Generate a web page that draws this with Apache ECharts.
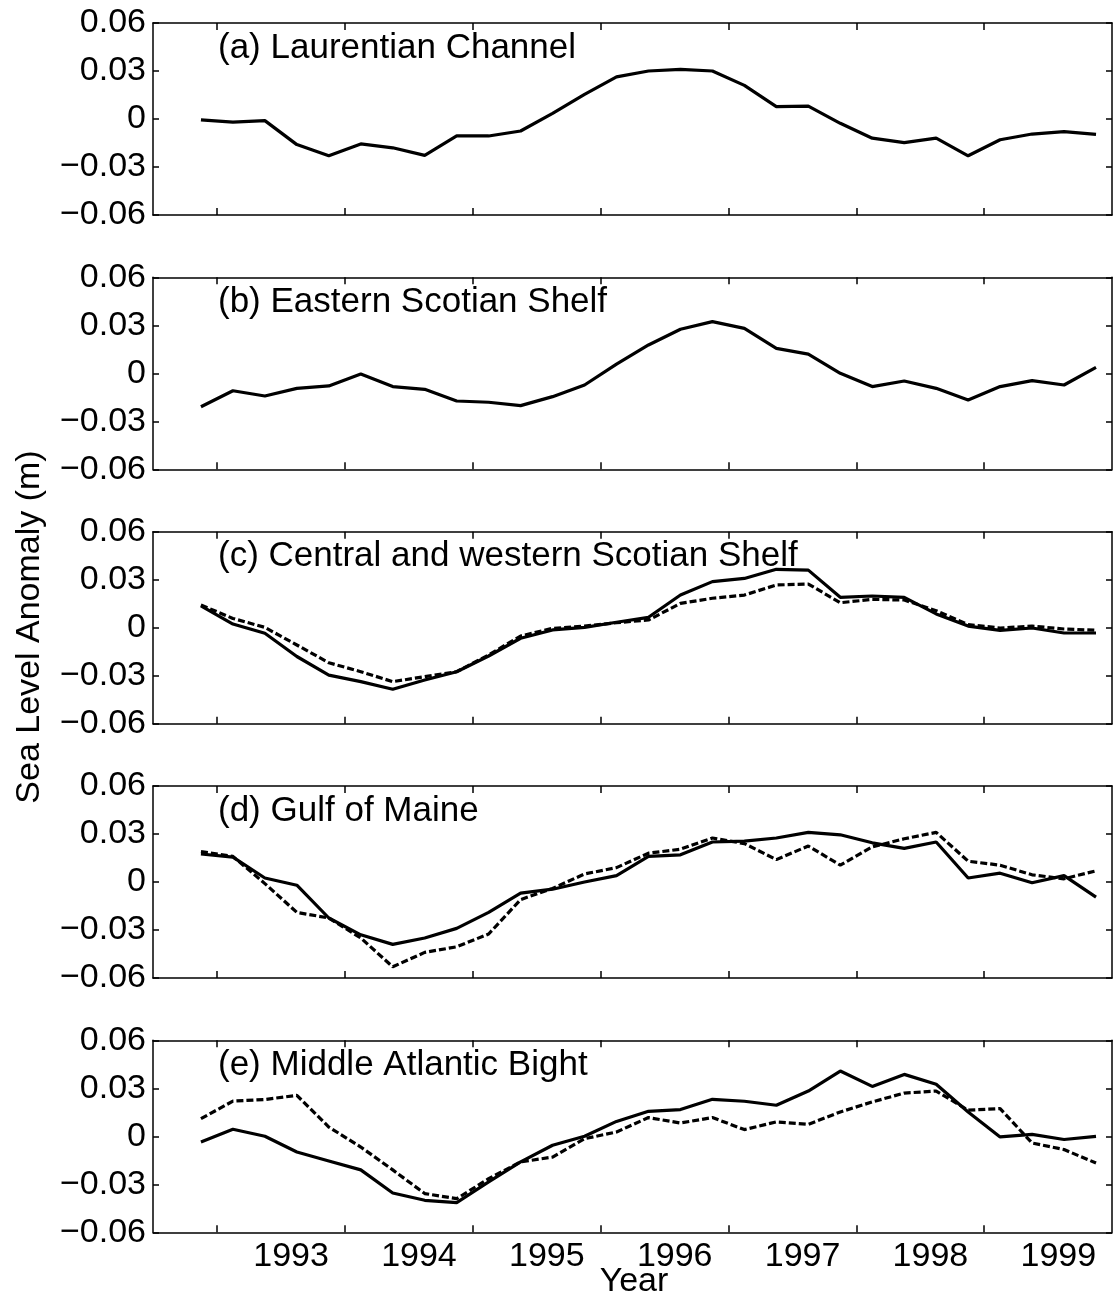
<!DOCTYPE html>
<html>
<head>
<meta charset="utf-8">
<script src="https://cdn.jsdelivr.net/npm/echarts@6/dist/echarts.min.js"></script>
<style>
html,body{margin:0;padding:0;background:#fff;}
#chart{width:1113px;height:1300px;}
</style>
</head>
<body>
<div id="chart"></div>
<script>
// Time (decimal year) of each quarterly sample
const time = [1992.875,1993.125,1993.375,1993.625,1993.875,1994.125,1994.375,1994.625,1994.875,1995.125,
  1995.375,1995.625,1995.875,1996.125,1996.375,1996.625,1996.875,1997.125,1997.375,1997.625,
  1997.875,1998.125,1998.375,1998.625,1998.875,1999.125,1999.375,1999.625,1999.875];

const yearTicks = [1993,1994,1995,1996,1997,1998,1999];
const yearLabels = ['1993','1994','1995','1996','1997','1998','1999'];
const yTicks = [-0.06,-0.03,0,0.03,0.06];

const panelTitles = ['(a) Laurentian Channel','(b) Eastern Scotian Shelf','(c) Central and western Scotian Shelf','(d) Gulf of Maine','(e) Middle Atlantic Bight'];

// Sea level anomaly (m), solid lines
const aSolid = [-0.0005,-0.002,-0.001,-0.016,-0.023,-0.0156,-0.018,-0.0227,-0.0106,-0.0106,-0.0075,0.0035,0.0154,0.0263,0.030,0.031,0.030,0.021,0.0077,0.008,-0.0027,-0.012,-0.0148,-0.012,-0.023,-0.013,-0.0094,-0.0079,-0.0096];
const bSolid = [-0.0209,-0.0109,-0.0142,-0.0094,-0.0079,-0.0004,-0.0083,-0.010,-0.0173,-0.0181,-0.0202,-0.0146,-0.0073,0.0057,0.0177,0.0275,0.0323,0.0281,0.0156,0.012,0.000,-0.0083,-0.0048,-0.0094,-0.0167,-0.0083,-0.0046,-0.0073,0.0037];
const cSolid = [0.0136,0.0023,-0.0035,-0.018,-0.0296,-0.0337,-0.0385,-0.0327,-0.0275,-0.0177,-0.0066,-0.0014,0.0002,0.0034,0.0065,0.0204,0.0288,0.0308,0.0365,0.036,0.019,0.0198,0.019,0.0086,0.001,-0.0017,-0.0002,-0.0033,-0.0033];
const cDashed = [0.0142,0.0058,0.0002,-0.0108,-0.0219,-0.0275,-0.0337,-0.0306,-0.0275,-0.017,-0.0052,-0.0004,0.001,0.0031,0.0048,0.0152,0.0184,0.0204,0.0267,0.0273,0.0156,0.0177,0.0173,0.0106,0.0019,-0.0002,0.001,-0.0008,-0.0016];
const dSolid = [0.0175,0.0156,0.0025,-0.002,-0.0225,-0.033,-0.039,-0.035,-0.029,-0.019,-0.007,-0.0045,0.000,0.004,0.016,0.017,0.025,0.0255,0.0275,0.031,0.0295,0.0245,0.021,0.025,0.0025,0.0055,-0.0005,0.004,-0.0095];
const dDashed = [0.019,0.016,-0.001,-0.019,-0.0225,-0.035,-0.053,-0.044,-0.0405,-0.0325,-0.011,-0.004,0.005,0.009,0.018,0.0205,0.0275,0.024,0.014,0.0225,0.0105,0.022,0.027,0.031,0.013,0.0105,0.0045,0.002,0.007];
const eSolid = [-0.0035,0.0044,0.000,-0.0098,-0.0154,-0.021,-0.0354,-0.040,-0.0415,-0.0285,-0.016,-0.0056,0.000,0.0093,0.0156,0.0167,0.0231,0.0219,0.0194,0.0283,0.0408,0.0312,0.0387,0.0325,0.0152,-0.0004,0.0012,-0.002,0.000];
const eDashed = [0.011,0.022,0.023,0.0256,0.0058,-0.0067,-0.021,-0.0358,-0.039,-0.0265,-0.016,-0.013,-0.0015,0.0027,0.0117,0.0083,0.0117,0.0042,0.009,0.0075,0.0152,0.0215,0.027,0.0283,0.0163,0.0173,-0.0042,-0.0083,-0.0167];

const panels = [
  {solid: aSolid, dashed: null},
  {solid: bSolid, dashed: null},
  {solid: cSolid, dashed: cDashed},
  {solid: dSolid, dashed: dDashed},
  {solid: eSolid, dashed: eDashed}
];

const FONT = 'Liberation Sans, Arial, Helvetica, sans-serif';
const tops = [23, 277.3, 531.7, 786, 1040.3];
const LEFT = 153, WIDTH = 959, HEIGHT = 192;

const grids = [], xAxes = [], yAxes = [], series = [], graphics = [];
const pair = (arr) => arr.map((v, i) => [time[i], v]);

panels.forEach((p, i) => {
  grids.push({left: LEFT, top: tops[i], width: WIDTH, height: HEIGHT, show: false});
  const isLast = i === panels.length - 1;
  const axLine = {show: true, onZero: false, lineStyle: {color: '#000', width: 1.5}};
  // bottom x axis
  xAxes.push({
    type: 'value', gridIndex: i, position: 'bottom', min: 1992.5, max: 2000,
    axisLine: axLine,
    axisTick: {show: true, inside: true, length: 7, lineStyle: {color: '#000', width: 1.5}, customValues: yearTicks},
    axisLabel: isLast ? {
      show: true, color: '#000', fontSize: 34, fontFamily: FONT, margin: 7,
      customValues: yearTicks.map(y => y + 0.58),
      formatter: (v) => yearLabels[yearTicks.indexOf(Math.floor(v))] || ''
    } : {show: false},
    splitLine: {show: false}
  });
  // top x axis (box + ticks)
  xAxes.push({
    type: 'value', gridIndex: i, position: 'top', min: 1992.5, max: 2000,
    axisLine: axLine,
    axisTick: {show: true, inside: true, length: 7, lineStyle: {color: '#000', width: 1.5}, customValues: yearTicks},
    axisLabel: {show: false}, splitLine: {show: false}
  });
  // left y axis
  yAxes.push({
    type: 'value', gridIndex: i, position: 'left', min: -0.06, max: 0.06, interval: 0.03,
    axisLine: axLine,
    axisTick: {show: true, inside: true, length: 6, lineStyle: {color: '#000', width: 1.5}, customValues: yTicks},
    axisLabel: {
      show: true, color: '#000', fontSize: 34, fontFamily: FONT, margin: 7,
      customValues: yTicks,
      formatter: (v) => Math.abs(v) < 1e-9 ? '0' : (v < 0 ? '\u2212' : '') + Math.abs(v).toFixed(2)
    },
    splitLine: {show: false}
  });
  // right y axis
  yAxes.push({
    type: 'value', gridIndex: i, position: 'right', min: -0.06, max: 0.06, interval: 0.03,
    axisLine: axLine,
    axisTick: {show: true, inside: true, length: 6, lineStyle: {color: '#000', width: 1.5}, customValues: yTicks},
    axisLabel: {show: false}, splitLine: {show: false}
  });
  series.push({
    type: 'line', xAxisIndex: 2 * i, yAxisIndex: 2 * i, data: pair(p.solid),
    symbol: 'none', lineStyle: {color: '#000', width: 3.2}, z: 3
  });
  if (p.dashed) {
    series.push({
      type: 'line', xAxisIndex: 2 * i, yAxisIndex: 2 * i, data: pair(p.dashed),
      symbol: 'none', lineStyle: {color: '#000', width: 3.2, type: [7, 3]}, z: 2
    });
  }
  graphics.push({
    type: 'text', x: 218, y: tops[i] + 25,
    style: {text: panelTitles[i], fontSize: 35, fontFamily: FONT, fill: '#000', verticalAlign: 'middle', align: 'left'}
  });
});

graphics.push({
  type: 'text', x: 30, y: 627, rotation: Math.PI / 2,
  style: {text: 'Sea Level Anomaly (m)', fontSize: 34, fontFamily: FONT, fill: '#000', verticalAlign: 'middle', align: 'center'}
});
graphics.push({
  type: 'text', x: 634, y: 1282,
  style: {text: 'Year', fontSize: 34, fontFamily: FONT, fill: '#000', verticalAlign: 'middle', align: 'center'}
});

const chart = echarts.init(document.getElementById('chart'), null, {renderer: 'canvas'});
chart.setOption({
  animation: false,
  backgroundColor: '#fff',
  grid: grids, xAxis: xAxes, yAxis: yAxes, series: series, graphic: graphics
});
</script>
</body>
</html>
